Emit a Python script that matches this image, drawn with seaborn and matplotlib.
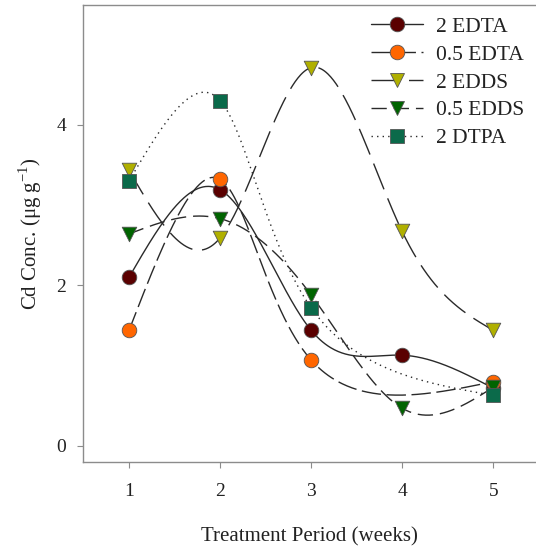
import numpy as np
import pandas as pd
import matplotlib
matplotlib.use("Agg")
import matplotlib.pyplot as plt
from matplotlib.lines import Line2D
import seaborn as sns

# Cd concentration (ug/g) per treatment over the treatment period (weeks)
weeks = [1, 2, 3, 4, 5]
edta_2 = [2.10, 3.19, 1.44, 1.13, 0.72]
edta_05 = [1.44, 3.32, 1.07, np.nan, 0.80]
edds_2 = [3.43, 2.59, 4.71, 2.67, 1.44]
edds_05 = [2.64, 2.83, 1.88, 0.47, 0.73]
dtpa_2 = [3.30, 4.30, 1.72, np.nan, 0.63]

series_names = ["2 EDTA", "0.5 EDTA", "2 EDDS", "0.5 EDDS", "2 DTPA"]
series_values = [edta_2, edta_05, edds_2, edds_05, dtpa_2]

x_ticks = [1, 2, 3, 4, 5]
y_ticks = [0, 2, 4]

styles = {
    "2 EDTA":   dict(color="#5a0000", marker="o", dashes=None, ms=10.5),
    "0.5 EDTA": dict(color="#ff6600", marker="o", dashes=(14, 4), ms=10.5),
    "2 EDDS":   dict(color="#b0b000", marker="v", dashes=(20, 7), ms=10.5),
    "0.5 EDDS": dict(color="#006400", marker="v", dashes=(11, 5), ms=10.5),
    "2 DTPA":   dict(color="#0b6a4a", marker="s", dashes=(1, 3), ms=9.5),
}


def natural_spline_1d(ys, tt):
    """Natural cubic spline of ys over a uniform parameter 0..n-1, evaluated at tt."""
    ys = np.asarray(ys, float)
    k = len(ys)
    A = np.zeros((k, k))
    b = np.zeros(k)
    A[0, 0] = A[-1, -1] = 1.0
    for i in range(1, k - 1):
        A[i, i - 1] = 1.0
        A[i, i] = 4.0
        A[i, i + 1] = 1.0
        b[i] = 3 * (ys[i + 1] - 2 * ys[i] + ys[i - 1])
    c = np.linalg.solve(A, b)
    idx = np.clip(np.floor(tt).astype(int), 0, k - 2)
    dt = tt - idx
    bi = (ys[idx + 1] - ys[idx]) - (2 * c[idx] + c[idx + 1]) / 3
    di = (c[idx + 1] - c[idx]) / 3
    return ys[idx] + bi * dt + c[idx] * dt ** 2 + di * dt ** 3


def spline_curve(xs, ys, n=400):
    """Parametric spline through the points (parameterised by point index)."""
    tt = np.linspace(0, len(xs) - 1, n)
    return natural_spline_1d(xs, tt), natural_spline_1d(ys, tt)


sns.set_style("white")
plt.rcParams["font.family"] = ["Liberation Serif", "DejaVu Serif"]
plt.rcParams["mathtext.fontset"] = "custom"
plt.rcParams["mathtext.rm"] = "Liberation Serif"

fig = plt.figure(figsize=(5.36, 5.52), dpi=100)
ax = fig.add_axes([0.155, 0.163, 0.845, 0.828])

line_color = "#2a2a2a"
handles = []
for name, vals in zip(series_names, series_values):
    st = styles[name]
    df = pd.DataFrame({"week": weeks, "conc": vals}).dropna()
    xx, yy = spline_curve(df["week"].to_numpy(), df["conc"].to_numpy())
    curve = pd.DataFrame({"week": xx, "conc": yy})
    sns.lineplot(data=curve, x="week", y="conc", ax=ax, color=line_color,
                 lw=1.0, sort=False, estimator=None, legend=False)
    ln = ax.lines[-1]
    if st["dashes"] is not None:
        ln.set_dashes(st["dashes"])
    sns.scatterplot(data=df, x="week", y="conc", ax=ax, marker=st["marker"],
                    s=st["ms"] ** 2, color=st["color"], edgecolor="#555555",
                    linewidth=0.6, zorder=3, legend=False)
    h = Line2D([0], [0], color=line_color, lw=1.0, marker=st["marker"],
               markersize=st["ms"], markerfacecolor=st["color"],
               markeredgecolor="#555555", markeredgewidth=0.6)
    if st["dashes"] is not None:
        h.set_dashes(st["dashes"])
    handles.append(h)

ax.set_xlim(0.495, 5.47)
ax.set_ylim(-0.2, 5.49)
ax.set_xticks(x_ticks)
ax.set_yticks(y_ticks)
ax.set_xticklabels([str(t) for t in x_ticks])
ax.set_yticklabels([str(t) for t in y_ticks])

for side in ["left", "bottom", "top"]:
    ax.spines[side].set_color("#8c8c8c")
    ax.spines[side].set_linewidth(1.0)
ax.spines["right"].set_visible(False)

ax.tick_params(axis="both", which="major", direction="out", length=4,
               width=0.8, color="#8c8c8c", labelsize=14, labelcolor="#222222")
ax.tick_params(axis="x", pad=11, bottom=True)
ax.tick_params(axis="y", pad=8, left=True)

ax.set_xlabel("Treatment Period (weeks)", fontsize=15, color="#222222",
              labelpad=20)
ax.set_ylabel(r"Cd Conc. (μg g$^{\mathregular{-1}}$)", fontsize=15,
              color="#222222", labelpad=9)

ax.legend(handles=handles, labels=series_names, loc="upper right",
          bbox_to_anchor=(1.0, 1.0), frameon=False, fontsize=15.5,
          handlelength=2.4, handletextpad=0.6, labelspacing=0.36,
          borderaxespad=0.05, borderpad=0.5, labelcolor="#222222")

fig.savefig("out.png", dpi=100)
